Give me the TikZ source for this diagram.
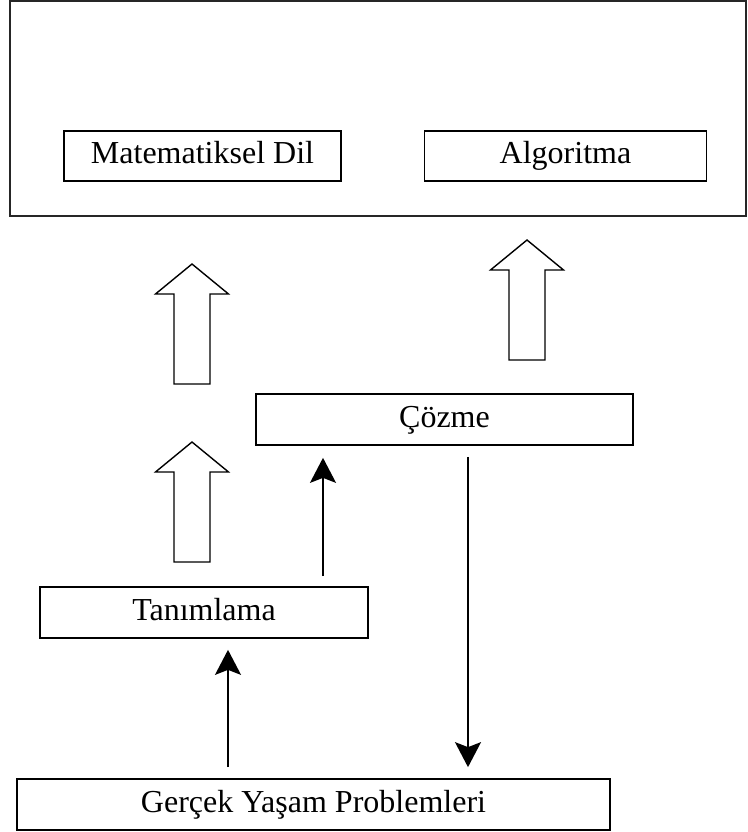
\documentclass[tikz,border=0pt]{standalone}
\usepackage{fontspec}
\setmainfont{Liberation Serif}
\usetikzlibrary{arrows.meta}
\begin{document}
\begin{tikzpicture}[x=1pt,y=-1pt,
  box/.style={draw=black, line width=1.7pt, inner sep=0pt, minimum height=50pt,
    text height=22pt, text depth=7pt,
    font=\fontsize{32}{38}\selectfont},
  panel/.style={draw=black!85, line width=1.3pt, inner sep=0pt},
  flow/.style={line width=1.8pt, -{Stealth[length=25pt,width=26pt,inset=5pt]}},
  hollow/.style={draw=black, line width=1.4pt, fill=white, line join=miter},
  pics/uparrow/.style={code={
    \draw[hollow] (0,0) -- (36.5,30) -- (18,30) -- (18,120) -- (-18,120)
      -- (-18,30) -- (-36.5,30) -- cycle;}}]
\useasboundingbox (0,0) rectangle (747,832);

% upper panel holding the two target representations
\node[panel, minimum width=736pt, minimum height=215pt] (top) at (378,108.5) {};
\node[box, minimum width=277pt] (mat) at (202.5,156) {Matematiksel Dil};
\node[box, minimum width=282pt] (alg) at (565.5,156) {Algoritma};

% process boxes
\node[box, minimum width=377pt, minimum height=51pt] (coz) at (444.5,419.5) {Çözme};
\node[box, minimum width=328pt, minimum height=51pt] (tan) at (204,612.5) {Tanımlama};
\node[box, minimum width=593pt, minimum height=51pt] (ger) at (313.5,804.5) {Gerçek Yaşam Problemleri};

% hollow block arrows
\pic at (192,264) {uparrow};
\pic at (192,442) {uparrow};
\pic at (527,240) {uparrow};

% flow connectors
\draw[flow, shorten <=10pt, shorten >=12pt] (tan.north -| 323,0) -- (coz.south -| 323,0);
\draw[flow, shorten <=11pt, shorten >=11pt] (coz.south -| 468,0) -- (ger.north -| 468,0);
\draw[flow, shorten <=11pt, shorten >=11pt] (ger.north -| 228,0) -- (tan.south -| 228,0);
\end{tikzpicture}
\end{document}
